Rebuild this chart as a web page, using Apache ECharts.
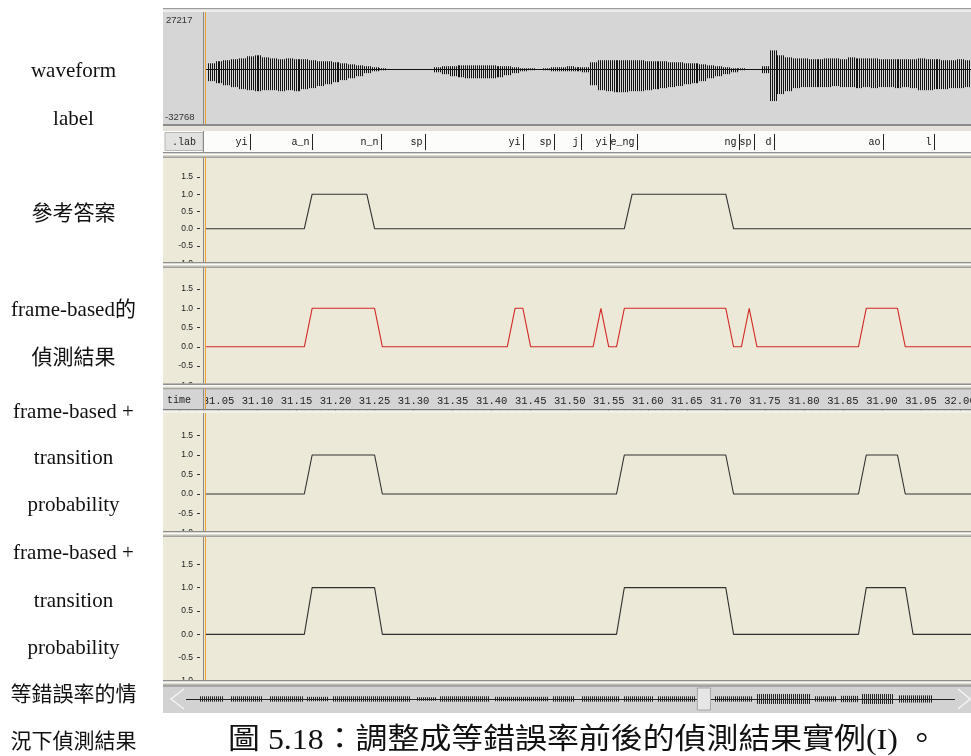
<!DOCTYPE html>
<html>
<head>
<meta charset="utf-8">
<script src="https://cdn.jsdelivr.net/npm/echarts@6/dist/echarts.min.js"></script>
<style>
  html, body { margin: 0; padding: 0; background: #ffffff; }
  #chart { width: 971px; height: 756px; }
</style>
</head>
<body>
<div id="chart"></div>
<script>
// ---------- data ----------
// visible time window of the editor view (seconds)
const viewStart = 31.034;
const viewEnd = 32.0142;

// speech waveform envelope, one value per 10 ms frame starting at waveStart (sample units)
const waveStart = 31.04;
const waveUpper = [
  3500, 4700, 5300, 5900, 6400, 7600, 8200, 7000, 6400, 5900,
  6400, 5900, 5900, 5300, 4700, 4700, 4100, 3500, 2900, 2300,
  1800, 1200, 600, 0, 0, 0, 0, 0, 0, 1200,
  1800, 1800, 2300, 2300, 2300, 2300, 2300, 1800, 1800, 1200,
  600, 600, 0, 600, 1200, 1200, 1800, 1200, 1200, 4100,
  5300, 5300, 5300, 5300, 5300, 5300, 4700, 4700, 4700, 4100,
  4100, 3500, 3500, 2900, 2300, 1800, 1200, 600, 600, 0,
  0, 1800, 11100, 8200, 7000, 6400, 6400, 5900, 5900, 6400,
  6400, 5900, 7000, 6400, 6400, 6400, 5900, 5900, 5900, 5900,
  5900, 6400, 5900, 5900, 5300, 5300, 5900, 5300, 5300
];
const waveLower = [
  -7000, -8200, -9400, -10500, -11700, -12300, -12900, -12300, -12300, -12900,
  -12300, -12900, -11700, -11100, -9900, -8800, -7600, -6400, -5300, -4100,
  -2300, -1200, -600, 0, 0, 0, 0, 0, 0, -1800,
  -2900, -4100, -4700, -5300, -5300, -5300, -5300, -4700, -3500, -2300,
  -1200, -600, 0, -600, -1200, -1200, -1200, -1200, -1800, -9400,
  -12300, -12900, -13500, -13500, -12900, -12900, -12300, -11700, -11100, -10500,
  -9900, -8800, -8200, -7000, -5300, -4100, -2900, -1800, -600, 0,
  0, -2300, -18700, -14600, -12900, -11100, -10500, -10500, -10500, -10500,
  -9900, -10500, -10500, -11100, -10500, -11100, -10500, -10500, -11100, -10500,
  -11100, -12300, -12300, -11700, -11700, -11100, -11100, -10500, -10500
];
const waveTickLabels = ['27217', '-32768'];

// phone labels (.lab tier): name and segment end time
const labNames = ['yi', 'a_n', 'n_n', 'sp', 'yi', 'sp', 'j', 'yi', 'e_ng', 'ng', 'sp', 'd', 'ao', 'l'];
const labEnds = [31.09, 31.17, 31.258, 31.315, 31.44, 31.48, 31.515, 31.552, 31.586, 31.717, 31.736, 31.762, 31.901, 31.967];

// detection tracks, one 0/1 value per 10 ms frame starting at trackStart
const trackStart = 31.03;
const refTrack = [
  0,0,0,0,0,0,0,0,0,0,  0,0,0,0,1,1,1,1,1,1,  1,1,0,0,0,0,0,0,0,0,  0,0,0,0,0,0,0,0,0,0,
  0,0,0,0,0,0,0,0,0,0,  0,0,0,0,0,1,1,1,1,1,  1,1,1,1,1,1,1,1,0,0,  0,0,0,0,0,0,0,0,0,0,
  0,0,0,0,0,0,0,0,0,0,  0,0,0,0,0,0,0,0,0,0
];
const frameTrack = [
  0,0,0,0,0,0,0,0,0,0,  0,0,0,0,1,1,1,1,1,1,  1,1,1,0,0,0,0,0,0,0,  0,0,0,0,0,0,0,0,0,0,
  1,1,0,0,0,0,0,0,0,0,  0,1,0,0,1,1,1,1,1,1,  1,1,1,1,1,1,1,1,0,0,  1,0,0,0,0,0,0,0,0,0,
  0,0,0,0,0,1,1,1,1,1,  0,0,0,0,0,0,0,0,0,0
];
const transTrack = [
  0,0,0,0,0,0,0,0,0,0,  0,0,0,0,1,1,1,1,1,1,  1,1,1,0,0,0,0,0,0,0,  0,0,0,0,0,0,0,0,0,0,
  0,0,0,0,0,0,0,0,0,0,  0,0,0,0,1,1,1,1,1,1,  1,1,1,1,1,1,1,1,0,0,  0,0,0,0,0,0,0,0,0,0,
  0,0,0,0,0,1,1,1,1,1,  0,0,0,0,0,0,0,0,0,0
];
const eerTrack = [
  0,0,0,0,0,0,0,0,0,0,  0,0,0,0,1,1,1,1,1,1,  1,1,1,0,0,0,0,0,0,0,  0,0,0,0,0,0,0,0,0,0,
  0,0,0,0,0,0,0,0,0,0,  0,0,0,0,1,1,1,1,1,1,  1,1,1,1,1,1,1,1,0,0,  0,0,0,0,0,0,0,0,0,0,
  0,0,0,0,0,1,1,1,1,1,  1,0,0,0,0,0,0,0,0,0
];
const trackTicks = [-1, -0.5, 0, 0.5, 1, 1.5];

// whole-file overview in the scroll bar: [start, end, amplitude] as fractions of the file
const overviewBursts = [
  [0.018, 0.048, 0.30], [0.059, 0.100, 0.30], [0.109, 0.151, 0.30], [0.157, 0.185, 0.25],
  [0.191, 0.290, 0.30], [0.300, 0.324, 0.20], [0.330, 0.395, 0.30], [0.402, 0.471, 0.25],
  [0.477, 0.505, 0.30], [0.515, 0.563, 0.30], [0.570, 0.607, 0.30], [0.614, 0.661, 0.30],
  [0.688, 0.736, 0.30], [0.743, 0.811, 0.55], [0.818, 0.845, 0.30], [0.852, 0.873, 0.35],
  [0.879, 0.919, 0.55], [0.927, 0.971, 0.40]
];
const scrollThumb = [0.665, 0.682];

const rowCaptions = ['waveform', 'label', '參考答案', 'frame-based的', '偵測結果',
  'frame-based +', 'transition', 'probability', 'frame-based +', 'transition', 'probability',
  '等錯誤率的情', '況下偵測結果'];
const figureCaption = '圖 5.18：調整成等錯誤率前後的偵測結果實例(I) 。';

// ---------- layout ----------
const rowCaptionY = [71, 119, 214, 310, 358, 412, 458, 505, 553, 601, 648, 695, 742];
const FL = 163, FW = 808;          // frame left / width
const PLOT_L = 206;               // plot area left edge
const PX_PER_S = 780.5;
const PANEL_BG = '#ece9d8';
const serif = '"Liberation Serif", "Noto Sans CJK TC", serif';

const waveData = waveUpper.map((u, i) => [+(waveStart + i * 0.01).toFixed(2), u, waveLower[i]]);
const trackTimes = refTrack.map((_, i) => +(trackStart + i * 0.01).toFixed(2));
const toLine = arr => arr.map((v, i) => [trackTimes[i], v]);

const g = [];
function rect(x, y, w, h, fill, z, stroke) {
  g.push({ type: 'rect', silent: true, z: z, shape: { x: x, y: y, width: w, height: h },
    style: { fill: fill, stroke: stroke || null, lineWidth: stroke ? 1 : 0 } });
}
function vline(x, y1, y2, color, z) {
  g.push({ type: 'line', silent: true, z: z, shape: { x1: x, y1: y1, x2: x, y2: y2 },
    style: { stroke: color, lineWidth: 1 } });
}
function text(x, y, str, font, align, fill, z, sx) {
  g.push({ type: 'text', silent: true, z: z, x: x, y: y, scaleX: sx || 1,
    style: { text: str, font: font, align: align, verticalAlign: 'middle', fill: fill } });
}
function separator(y) {
  rect(FL, y, FW, 6, '#dcd9cc', 50);
  rect(FL, y, FW, 1.5, '#8e8e8e', 51);
  rect(FL, y + 1.5, FW, 1.5, '#fbfbf8', 51);
  rect(FL, y + 4.5, FW, 1.5, '#a2a2a2', 51);
}

// backgrounds
rect(FL, 12, FW, 112, '#d6d6d6', -10);
rect(FL, 124, FW, 7, '#e4e2da', -10);
rect(FL, 131, FW, 21, '#fcfcfa', -10);
rect(165, 132.5, 38, 18, '#e2e2e0', -9, '#b8b8b8');
rect(FL, 157, FW, 105, PANEL_BG, -10);
rect(FL, 267, FW, 117, PANEL_BG, -10);
rect(FL, 389, FW, 20, '#d4d4d4', -10);
rect(FL, 413, FW, 119, PANEL_BG, -10);
rect(FL, 537, FW, 144, PANEL_BG, -10);

// frame borders and panel separators
rect(FL, 8, FW, 1.5, '#9c9c9c', 50);
rect(FL, 9.5, FW, 2.5, '#ececea', 50);
rect(FL, 124, FW, 2, '#8c8c8c', 50);
separator(152);
separator(262);
separator(383.5);
rect(FL, 409, FW, 1.5, '#7c7c7c', 51);
rect(FL, 410.5, FW, 2.5, '#f2f1ec', 51);
separator(531);
separator(680);

// cell for the time tier name (covers the part of the ruler left of the plot)
rect(FL, 389.5, PLOT_L - FL - 1, 19.5, '#d4d4d4', 60);
text(167, 400, 'time', '10px "Liberation Mono", monospace', 'left', '#222', 61);
text(184, 142, '.lab', '10px "Liberation Mono", monospace', 'center', '#222', 5);
text(166, 20, waveTickLabels[0], '9.5px "Liberation Sans", sans-serif', 'left', '#333', 5);
text(165, 117, waveTickLabels[1], '9.5px "Liberation Sans", sans-serif', 'left', '#333', 5);

// axis edge and cursor lines
[[12, 124], [131, 152], [157, 262], [267, 383.5], [389, 409], [413, 531], [537, 680]].forEach(r => {
  vline(203.5, r[0], r[1], '#8a8a8a', 62);
  if (r[0] !== 131) vline(205.5, r[0], r[1], '#f0a030', 63);
});

// scroll bar
rect(FL, 686, FW, 27, '#d2d2d2', -10);
rect(FL, 686, FW, 1, '#a8a8a8', 1);
g.push({ type: 'polyline', silent: true, z: 3, shape: { points: [[184, 689], [171, 699], [184, 709]] },
  style: { stroke: '#f4f4f4', fill: null, lineWidth: 1.5 } });
g.push({ type: 'polyline', silent: true, z: 3, shape: { points: [[958, 689], [970, 699], [958, 709]] },
  style: { stroke: '#f4f4f4', fill: null, lineWidth: 1.5 } });

// row captions and figure caption
rowCaptions.forEach((s, i) => text(73.5, rowCaptionY[i], s, '21px ' + serif, 'center', '#111', 5));
text(228, 741, figureCaption, '29px ' + serif, 'left', '#111', 5, 1.1);

// ---------- chart ----------
const gridBase = { outerBoundsMode: 'none', containLabel: false };
const hiddenX = gi => ({ gridIndex: gi, type: 'value', min: viewStart, max: viewEnd, show: false });
const panelY = gi => ({
  gridIndex: gi, type: 'value', min: -1, max: 2, offset: 6,
  axisLine: { show: false }, splitLine: { show: false },
  axisTick: { show: true, length: 3, customValues: trackTicks, lineStyle: { color: '#333' } },
  axisLabel: { margin: 7, fontSize: 8.5, fontFamily: 'Liberation Sans', color: '#222',
    customValues: trackTicks, formatter: v => v.toFixed(1) }
});
const trackSeries = (gi, arr, color) => ({
  type: 'line', xAxisIndex: gi, yAxisIndex: gi, data: toLine(arr), showSymbol: false,
  clip: true, lineStyle: { color: color, width: 1.1 }, silent: true
});

const option = {
  animation: false,
  backgroundColor: '#ffffff',
  grid: [
    Object.assign({ left: PLOT_L, right: 0, top: 13.5, height: 111.5 }, gridBase),     // waveform
    Object.assign({ left: PLOT_L, right: 0, top: 131, height: 21 }, gridBase),         // .lab tier
    Object.assign({ left: PLOT_L, right: 0, top: 159.7, height: 103.5 }, gridBase),    // reference
    Object.assign({ left: PLOT_L, right: 0, top: 269.8, height: 115.5 }, gridBase),    // frame-based
    Object.assign({ left: PLOT_L - 0.034 * PX_PER_S, width: 1.05 * PX_PER_S, top: 390, height: 19 }, gridBase), // time ruler
    Object.assign({ left: PLOT_L, right: 0, top: 416, height: 117 }, gridBase),        // + transition prob.
    Object.assign({ left: PLOT_L, right: 0, top: 541, height: 140 }, gridBase),        // + transition prob. at EER
    Object.assign({ left: 186, width: 769, top: 690, height: 18 }, gridBase)           // scroll overview
  ],
  xAxis: [
    { gridIndex: 0, type: 'value', min: viewStart, max: viewEnd,
      axisLine: { onZero: true, lineStyle: { color: '#111', width: 1 } },
      axisTick: { show: false }, axisLabel: { show: false }, splitLine: { show: false } },
    hiddenX(1), hiddenX(2), hiddenX(3),
    { gridIndex: 4, type: 'value', min: 31.0, max: 32.05, interval: 0.05, position: 'top',
      axisLine: { show: false }, splitLine: { show: false },
      axisTick: { show: true, inside: true, length: 2.5, lineStyle: { color: '#444' } },
      minorTick: { show: true, splitNumber: 5, length: 1.5, lineStyle: { color: '#666' } },
      axisLabel: { inside: true, margin: 6, fontSize: 10.5, fontFamily: 'Liberation Mono', color: '#222',
        hideOverlap: false, formatter: v => v.toFixed(2) } },
    hiddenX(5), hiddenX(6),
    { gridIndex: 7, type: 'value', min: 0, max: 1, show: false }
  ],
  yAxis: [
    { gridIndex: 0, type: 'value', min: -32768, max: 32768, show: false },
    { gridIndex: 1, type: 'value', min: 0, max: 1, show: false },
    panelY(2), panelY(3),
    { gridIndex: 4, type: 'value', min: 0, max: 1, show: false },
    panelY(5), panelY(6),
    { gridIndex: 7, type: 'value', min: -1, max: 1, show: false }
  ],
  series: [
    { // waveform: vertical strokes spanning each frame's envelope
      type: 'custom', xAxisIndex: 0, yAxisIndex: 0, clip: true, silent: true,
      data: waveData,
      renderItem: function (params, api) {
        const t = api.value(0), hi = api.value(1), lo = api.value(2);
        if (hi === 0 && lo === 0) return null;
        const c = api.coord([t, 0]);
        const y1 = api.coord([t, hi])[1], y2 = api.coord([t, lo])[1];
        const w = api.size([0.01, 0])[0];
        const kids = [];
        [-1.5, -0.5, 0.5, 1.5].forEach(k => {
          const x = Math.round(c[0] + k * w / 4) + 0.5;
          kids.push({ type: 'line', shape: { x1: x, y1: y1, x2: x, y2: y2 },
            style: { stroke: '#141414', lineWidth: 1 } });
        });
        return { type: 'group', children: kids };
      }
    },
    { // phone label tier
      type: 'custom', xAxisIndex: 1, yAxisIndex: 1, clip: true, silent: true,
      data: labEnds.map((t, i) => [t, i]),
      renderItem: function (params, api) {
        const cs = params.coordSys;
        const x = Math.round(api.coord([api.value(0), 0])[0]) + 0.5;
        return { type: 'group', children: [
          { type: 'line', shape: { x1: x, y1: cs.y + 3, x2: x, y2: cs.y + cs.height - 2 },
            style: { stroke: '#222', lineWidth: 1 } },
          { type: 'text', x: x - 3, y: cs.y + cs.height / 2 + 1,
            style: { text: labNames[api.value(1)], align: 'right', verticalAlign: 'middle',
              font: '10px "Liberation Mono", monospace', fill: '#111' } }
        ] };
      }
    },
    trackSeries(2, refTrack, '#303030'),
    trackSeries(3, frameTrack, '#d22a24'),
    trackSeries(5, transTrack, '#303030'),
    trackSeries(6, eerTrack, '#303030'),
    { // ruler placeholder so the time grid is laid out
      type: 'line', xAxisIndex: 4, yAxisIndex: 4, data: [], silent: true
    },
    { // scroll-bar overview of the whole file
      type: 'custom', xAxisIndex: 7, yAxisIndex: 7, silent: true,
      data: overviewBursts,
      renderItem: function (params, api) {
        const p0 = api.coord([api.value(0), api.value(2)]);
        const p1 = api.coord([api.value(1), -api.value(2)]);
        const kids = [];
        for (let x = Math.round(p0[0]); x <= p1[0]; x += 2) {
          kids.push({ type: 'line', shape: { x1: x + 0.5, y1: p0[1], x2: x + 0.5, y2: p1[1] },
            style: { stroke: '#222', lineWidth: 1 } });
        }
        return { type: 'group', children: kids };
      }
    },
    { // overview baseline and view thumb
      type: 'custom', xAxisIndex: 7, yAxisIndex: 7, silent: true, z: 1,
      data: [[0, 1]],
      renderItem: function (params, api) {
        const a = api.coord([0, 0]), b = api.coord([1, 0]);
        const t0 = api.coord([scrollThumb[0], 1]), t1 = api.coord([scrollThumb[1], -1]);
        return { type: 'group', children: [
          { type: 'line', shape: { x1: a[0], y1: Math.round(a[1]) + 0.5, x2: b[0], y2: Math.round(b[1]) + 0.5 },
            style: { stroke: '#222', lineWidth: 1 } },
          { type: 'rect', z2: 10, shape: { x: t0[0], y: t0[1] - 2, width: t1[0] - t0[0], height: t1[1] - t0[1] + 4 },
            style: { fill: '#e6e6e6', stroke: '#a6a6a6', lineWidth: 1 } }
        ] };
      }
    }
  ],
  graphic: { elements: g }
};

const chart = echarts.init(document.getElementById('chart'));
chart.setOption(option);
</script>
</body>
</html>
